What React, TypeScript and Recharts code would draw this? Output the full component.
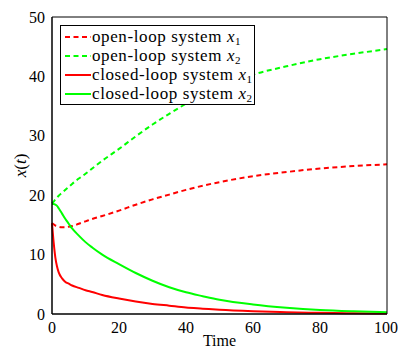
import { Line, LineChart, XAxis, YAxis } from "recharts";

// time samples shared by every series
const TIME = [0, 0.5, 1, 1.5, 2, 3, 4, 5, 6, 8, 10, 12, 15, 20, 25, 30, 35, 40, 45, 50, 60, 70, 80, 90, 100];

const OPEN_X1 = [15.3, 15.1, 14.9, 14.8, 14.7, 14.6, 14.6, 14.7, 14.8, 15.2, 15.6, 16.0, 16.5, 17.4, 18.4, 19.3, 20.1, 20.9, 21.6, 22.2, 23.2, 23.9, 24.5, 24.9, 25.2];
const OPEN_X2 = [18.6, 18.9, 19.3, 19.6, 19.9, 20.4, 20.9, 21.4, 21.9, 22.8, 23.6, 24.5, 25.8, 27.8, 29.9, 31.9, 33.7, 35.4, 36.9, 38.2, 40.3, 41.7, 42.9, 43.8, 44.6];
const CLOSED_X1 = [15.3, 12.0, 9.5, 8.0, 7.0, 6.0, 5.4, 5.1, 4.8, 4.4, 4.0, 3.7, 3.2, 2.6, 2.1, 1.7, 1.4, 1.1, 0.9, 0.7, 0.45, 0.3, 0.2, 0.12, 0.08];
const CLOSED_X2 = [18.5, 18.5, 18.4, 18.2, 17.8, 16.9, 16.0, 15.2, 14.4, 13.2, 12.1, 11.2, 10.0, 8.4, 6.9, 5.6, 4.5, 3.65, 3.0, 2.4, 1.6, 1.05, 0.67, 0.45, 0.3];

const X_TICKS = [0, 20, 40, 60, 80, 100];
const Y_TICKS = [0, 10, 20, 30, 40, 50];

const SERIES = [
  { key: "openX1", label: "open-loop system", sub: "1", color: "#ff0000", dash: "5 3.5" },
  { key: "openX2", label: "open-loop system", sub: "2", color: "#00ff00", dash: "5 3.5" },
  { key: "closedX1", label: "closed-loop system", sub: "1", color: "#ff0000", dash: undefined },
  { key: "closedX2", label: "closed-loop system", sub: "2", color: "#00ff00", dash: undefined },
];

const data = TIME.map((t, i) => ({
  t,
  openX1: OPEN_X1[i],
  openX2: OPEN_X2[i],
  closedX1: CLOSED_X1[i],
  closedX2: CLOSED_X2[i],
}));

const FONT = "'Liberation Serif', 'Times New Roman', Times, serif";
const tickStyle = { fontSize: 16, fill: "#000", fontFamily: FONT };

function YLabel({ viewBox }: any) {
  const cx = 20;
  const cy = viewBox.y + viewBox.height / 2;
  return (
    <text
      x={cx}
      y={cy}
      transform={`rotate(-90 ${cx} ${cy})`}
      textAnchor="middle"
      dominantBaseline="central"
      fontSize={17}
      fontFamily={FONT}
      fill="#000"
    >
      <tspan fontStyle="italic">x</tspan>(<tspan fontStyle="italic">t</tspan>)
    </text>
  );
}

function LegendBox() {
  return (
    <div
      style={{
        position: "absolute",
        left: 60,
        top: 25,
        width: 193,
        height: 77,
        border: "1px solid #000",
        background: "#fff",
        fontFamily: FONT,
        fontSize: 17,
        letterSpacing: 0.6,
        paddingTop: 1,
        boxSizing: "content-box",
      }}
    >
      {SERIES.map((s) => (
        <div key={s.key} style={{ display: "flex", alignItems: "center", height: 19 }}>
          <svg width={27} height={10} style={{ marginLeft: 4 }}>
            <line x1={0} y1={5} x2={26} y2={5} stroke={s.color} strokeWidth={2} strokeDasharray={s.dash} />
          </svg>
          <span style={{ whiteSpace: "nowrap" }}>
            {s.label} <i>x</i>
            <sub style={{ fontSize: 11, verticalAlign: "-3px" }}>{s.sub}</sub>
          </span>
        </div>
      ))}
    </div>
  );
}

export default function App() {
  return (
    <div style={{ position: "absolute", left: 0, top: 0, width: 398, height: 349, background: "#fff", fontFamily: FONT }}>
      <LineChart width={398} height={349} data={data} margin={{ top: 17, right: 11, bottom: 0, left: 0 }}>
        <XAxis
          xAxisId="top"
          orientation="top"
          dataKey="t"
          type="number"
          domain={[0, 100]}
          ticks={X_TICKS}
          mirror
          tick={false}
          tickSize={5}
          tickLine={{ stroke: "#000" }}
          axisLine={{ stroke: "#000" }}
        />
        <YAxis
          yAxisId="r"
          orientation="right"
          type="number"
          domain={[0, 50]}
          ticks={Y_TICKS}
          mirror
          tick={false}
          tickSize={5}
          tickLine={{ stroke: "#000" }}
          axisLine={{ stroke: "#000" }}
        />
        <XAxis
          xAxisId="bIn"
          dataKey="t"
          type="number"
          domain={[0, 100]}
          ticks={X_TICKS}
          mirror
          tick={false}
          tickSize={5}
          tickLine={{ stroke: "#000" }}
          axisLine={false}
        />
        <YAxis
          yAxisId="lIn"
          type="number"
          domain={[0, 50]}
          ticks={Y_TICKS}
          mirror
          tick={false}
          tickSize={5}
          tickLine={{ stroke: "#000" }}
          axisLine={false}
        />
        {SERIES.map((s) => (
          <Line
            key={s.key}
            xAxisId="b"
            yAxisId="l"
            type="monotone"
            dataKey={s.key}
            stroke={s.color}
            strokeWidth={2}
            strokeDasharray={s.dash}
            dot={false}
            isAnimationActive={false}
          />
        ))}
        <XAxis
          xAxisId="b"
          dataKey="t"
          type="number"
          domain={[0, 100]}
          ticks={X_TICKS}
          tickLine={false}
          axisLine={{ stroke: "#000", strokeWidth: 1.5 }}
          tick={tickStyle}
          tickMargin={2}
          height={35}
          label={{ value: "Time", position: "insideBottom", offset: 3, style: { ...tickStyle } }}
        />
        <YAxis
          yAxisId="l"
          type="number"
          domain={[0, 50]}
          ticks={Y_TICKS}
          tickLine={false}
          axisLine={{ stroke: "#000", strokeWidth: 1.5 }}
          tick={tickStyle}
          tickMargin={1}
          width={52}
          label={<YLabel />}
        />
      </LineChart>
      <LegendBox />
    </div>
  );
}
